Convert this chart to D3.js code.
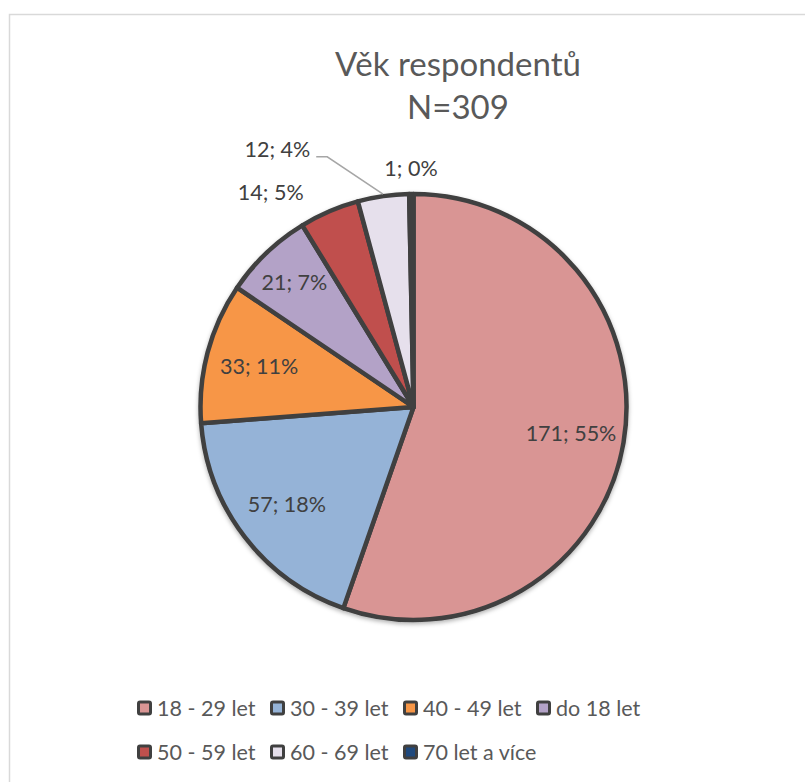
<!DOCTYPE html>
<html>
<head>
<meta charset="utf-8">
<script src="https://cdn.jsdelivr.net/npm/d3@7"></script>
<style>
  html, body { margin: 0; padding: 0; background: #fff; }
  svg { display: block; }
</style>
</head>
<body>
<svg id="chart" width="805" height="782"></svg>
<script>
// Age groups of respondents (N = 309)
const categories = ["18 - 29 let", "30 - 39 let", "40 - 49 let", "do 18 let", "50 - 59 let", "60 - 69 let", "70 let a více"];
const counts = [171, 57, 33, 21, 14, 12, 1];
const colors = ["#D99594", "#95B3D7", "#F79646", "#B3A2C7", "#C0504D", "#E6E0EC", "#1F497D"];
const titleLines = ["Věk respondentů", "N=309"];

const W = 805, H = 782;
const font = "Lato, 'Open Sans', sans-serif";
const svg = d3.select("#chart");

// chart area frame
svg.append("rect")
  .attr("x", 9.5).attr("y", 14.5)
  .attr("width", W).attr("height", H)
  .attr("fill", "#fff")
  .attr("stroke", "#D9D9D9").attr("stroke-width", 1.5);

// title
const title = svg.append("text")
  .attr("text-anchor", "middle")
  .attr("font-family", font)
  .attr("font-size", 33)
  .attr("fill", "#595959");
titleLines.forEach((t, i) => {
  title.append("tspan").attr("x", 458).attr("y", 76 + i * 43).text(t);
});

// pie
const cx = 413.5, cy = 407, R = 213;
const total = d3.sum(counts);
const data = categories.map((c, i) => ({ cat: c, value: counts[i], color: colors[i] }));
const pie = d3.pie().value(d => d.value).sort(null);
const arcs = pie(data);
const arc = d3.arc().innerRadius(0).outerRadius(R);

const defs = svg.append("defs");
const shadow = defs.append("filter").attr("id", "pieShadow")
  .attr("x", "-10%").attr("y", "-10%").attr("width", "120%").attr("height", "120%");
shadow.append("feDropShadow")
  .attr("dx", 0).attr("dy", 2).attr("stdDeviation", 2)
  .attr("flood-color", "#000").attr("flood-opacity", 0.3);

const g = svg.append("g").attr("transform", `translate(${cx},${cy})`);
g.append("g").attr("filter", "url(#pieShadow)")
  .selectAll("path")
  .data(arcs)
  .join("path")
  .attr("d", arc)
  .attr("fill", d => d.data.color)
  .attr("stroke", "#404040")
  .attr("stroke-width", 4.5)
  .attr("stroke-linejoin", "round");

// data labels: "value; percent"
const fmtPct = v => Math.round(v / total * 100) + "%";
const labelText = d => `${d.data.value}; ${fmtPct(d.data.value)}`;
const mid = d => (d.startAngle + d.endAngle) / 2;
const polar = (r, a) => [r * Math.sin(a), -r * Math.cos(a)];
const deg = Math.PI / 180;

// small slices get their labels outside the pie
const outside = {
  "50 - 59 let": { r: 258, a: 326.4 * deg },
  "60 - 69 let": { r: 291, a: 332.1 * deg, leader: true },
  "70 let a více": { r: 239, a: 359.4 * deg }
};
// inner labels sit near the centroid; the narrow purple one a little further out
const innerRadius = { "do 18 let": R * 0.81 };

const labels = g.append("g")
  .attr("font-family", font)
  .attr("font-size", 21.5)
  .attr("fill", "#404040")
  .attr("text-anchor", "middle");

arcs.forEach(d => {
  const o = outside[d.data.cat];
  const [x, y] = o ? polar(o.r, o.a) : polar(innerRadius[d.data.cat] || R * 0.75, mid(d));
  const t = labels.append("text")
    .attr("x", x).attr("y", y)
    .attr("dy", "0.35em")
    .text(labelText(d));
  if (o && o.leader) {
    const w = t.node().getComputedTextLength();
    const x0 = x + w / 2 + 6, y0 = y + 7;
    const [ex, ey] = polar(R + 2, mid(d));
    g.append("polyline")
      .attr("points", [[x0, y0], [x0 + 11, y0], [ex, ey]].map(p => p.join(",")).join(" "))
      .attr("fill", "none")
      .attr("stroke", "#A6A6A6")
      .attr("stroke-width", 1.5);
  }
});

// legend, two rows of four columns
const colX = d3.scaleLinear().domain([0, 1]).range([137, 270]);
const rowY = d3.scaleLinear().domain([0, 1]).range([708, 752]);
const legend = svg.append("g")
  .attr("font-family", font)
  .attr("font-size", 21.5)
  .attr("fill", "#595959");

data.forEach((d, i) => {
  const col = i % 4, row = Math.floor(i / 4);
  const x = colX(col), y = rowY(row);
  legend.append("rect")
    .attr("x", x + 1.5).attr("y", y - 6)
    .attr("width", 12).attr("height", 12)
    .attr("rx", 1.5)
    .attr("fill", d.color)
    .attr("stroke", "#404040")
    .attr("stroke-width", 3);
  legend.append("text")
    .attr("x", x + 20).attr("y", y)
    .attr("dy", "0.35em")
    .text(d.cat);
});
</script>
</body>
</html>
